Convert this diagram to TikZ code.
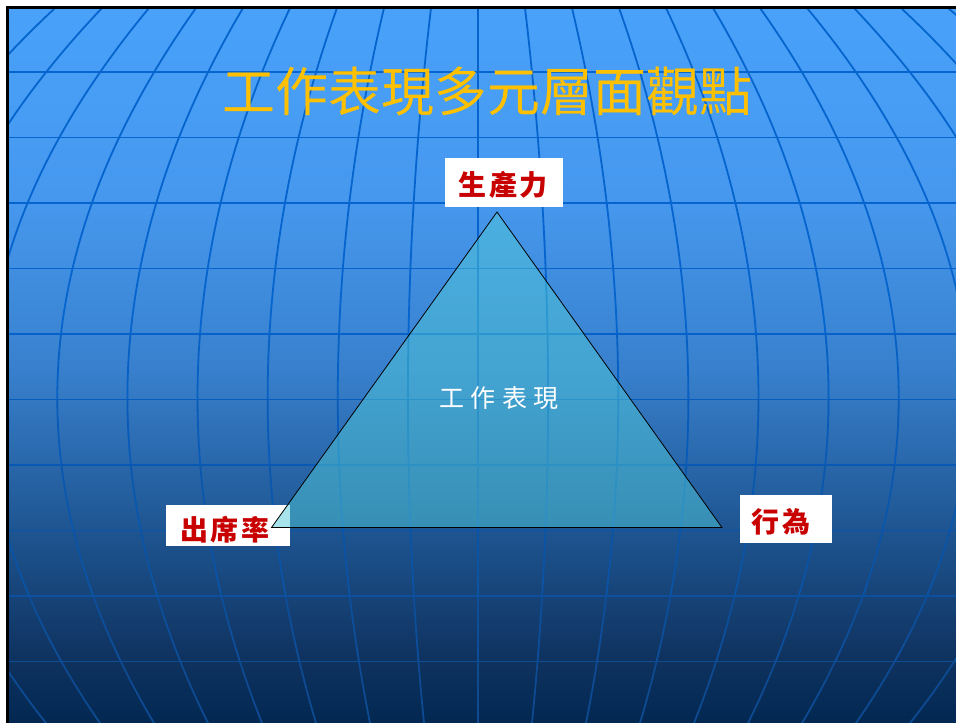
\documentclass[tikz,border=0pt]{standalone}
\usepackage{fontspec}
\newfontfamily\cjk{Noto Sans CJK TC}
\definecolor{bg0}{RGB}{2,40,82}
\definecolor{bg1}{RGB}{15,50,95}
\definecolor{bg2}{RGB}{30,85,145}
\definecolor{bg3}{RGB}{56,128,205}
\definecolor{bg4}{RGB}{70,152,238}
\definecolor{bg5}{RGB}{73,161,249}
\definecolor{lineTop}{RGB}{5,100,205}
\definecolor{lineBot}{RGB}{15,72,140}
\definecolor{tri}{RGB}{80,200,215}
\definecolor{lblred}{RGB}{200,0,0}
\definecolor{titlegold}{RGB}{255,192,0}
\pgfdeclareverticalshading{slidebg}{100bp}{color(0bp)=(bg0); color(25bp)=(bg0); color(29.4bp)=(bg1); color(38.5bp)=(bg2); color(49.7bp)=(bg3); color(61.6bp)=(bg4); color(75bp)=(bg5); color(100bp)=(bg5)}
\tikzset{
  gridline/.style={line width=1.8pt},
  labelbox/.style={fill=white, draw=none, inner sep=0pt},
  lbltext/.style={text=lblred, font=\cjk\bfseries\fontsize{28pt}{32pt}\selectfont, inner sep=0pt},
  innertext/.style={text=white, font=\cjk\fontsize{25pt}{29pt}\selectfont, inner sep=0pt},
  titletext/.style={text=titlegold, font=\cjk\fontsize{53pt}{60pt}\selectfont, inner sep=0pt}
}
\begin{document}
\begin{tikzpicture}[x=1pt,y=-1pt]
\useasboundingbox (0,0) rectangle (956,723);
\fill[white] (0,0) rectangle (956,723);
\fill[shading=slidebg] (9,9) rectangle (956,723);
% grid
\begin{scope}
\clip (9,9) rectangle (956,723);
\foreach \yy/\p in {72/100,137.5/100,203/100,268.5/100,334/92,399.5/76,465/61,530.5/46,596/30,661.5/15}{
  \draw[gridline, color=lineTop!\p!lineBot] (9,\yy) -- (956,\yy);
}
\foreach \k in {-10,...,10}{
  \foreach \ya/\yb/\p in {8/72/100,72/137.5/100,137.5/203/100,203/268.5/100,268.5/334/100,334/399.5/84,399.5/465/69,465/530.5/53,530.5/596/38,596/661.5/22,661.5/724/7}{
    \draw[gridline, color=lineTop!\p!lineBot] plot[domain=\ya:\yb, samples=8, smooth, variable=\t]
      ({478+\k*(46.041+0.121087*\t-1.5225*(\t/100)*(\t/100))}, {\t});
  }
}
\end{scope}
\draw[line width=3pt] (7.5,723) -- (7.5,7.5) -- (956,7.5);
% title
\node[titletext] (title) at (487,91) {工作表現多元層面觀點};
% label boxes
\node[labelbox, minimum width=118pt, minimum height=49pt] (boxP) at (504,182.5) {};
\node[labelbox, minimum width=124pt, minimum height=41pt] (boxA) at (228,525.5) {};
\node[labelbox, minimum width=92pt, minimum height=48pt] (boxB) at (786,519) {};
% triangle
\coordinate (apex) at (497,212);
\coordinate (lft) at (271.5,527.5);
\coordinate (rgt) at (722,527.5);
\filldraw[fill=tri, fill opacity=0.5, draw=black, line width=0.8pt] (apex) -- (lft) -- (rgt) -- cycle;
% texts
\node[lbltext] (tP) at (503,185) {生\hspace{3pt}產\hspace{3pt}力};
\node[lbltext] (tA) at (225,530) {出\hspace{3pt}席\hspace{3pt}率};
\node[lbltext] (tB) at (781,522) {行\hspace{3pt}為};
\node[innertext] (center) at (499,398) {工\hspace{6.5pt}作\hspace{6.5pt}表\hspace{6.5pt}現};
\end{tikzpicture}
\end{document}
